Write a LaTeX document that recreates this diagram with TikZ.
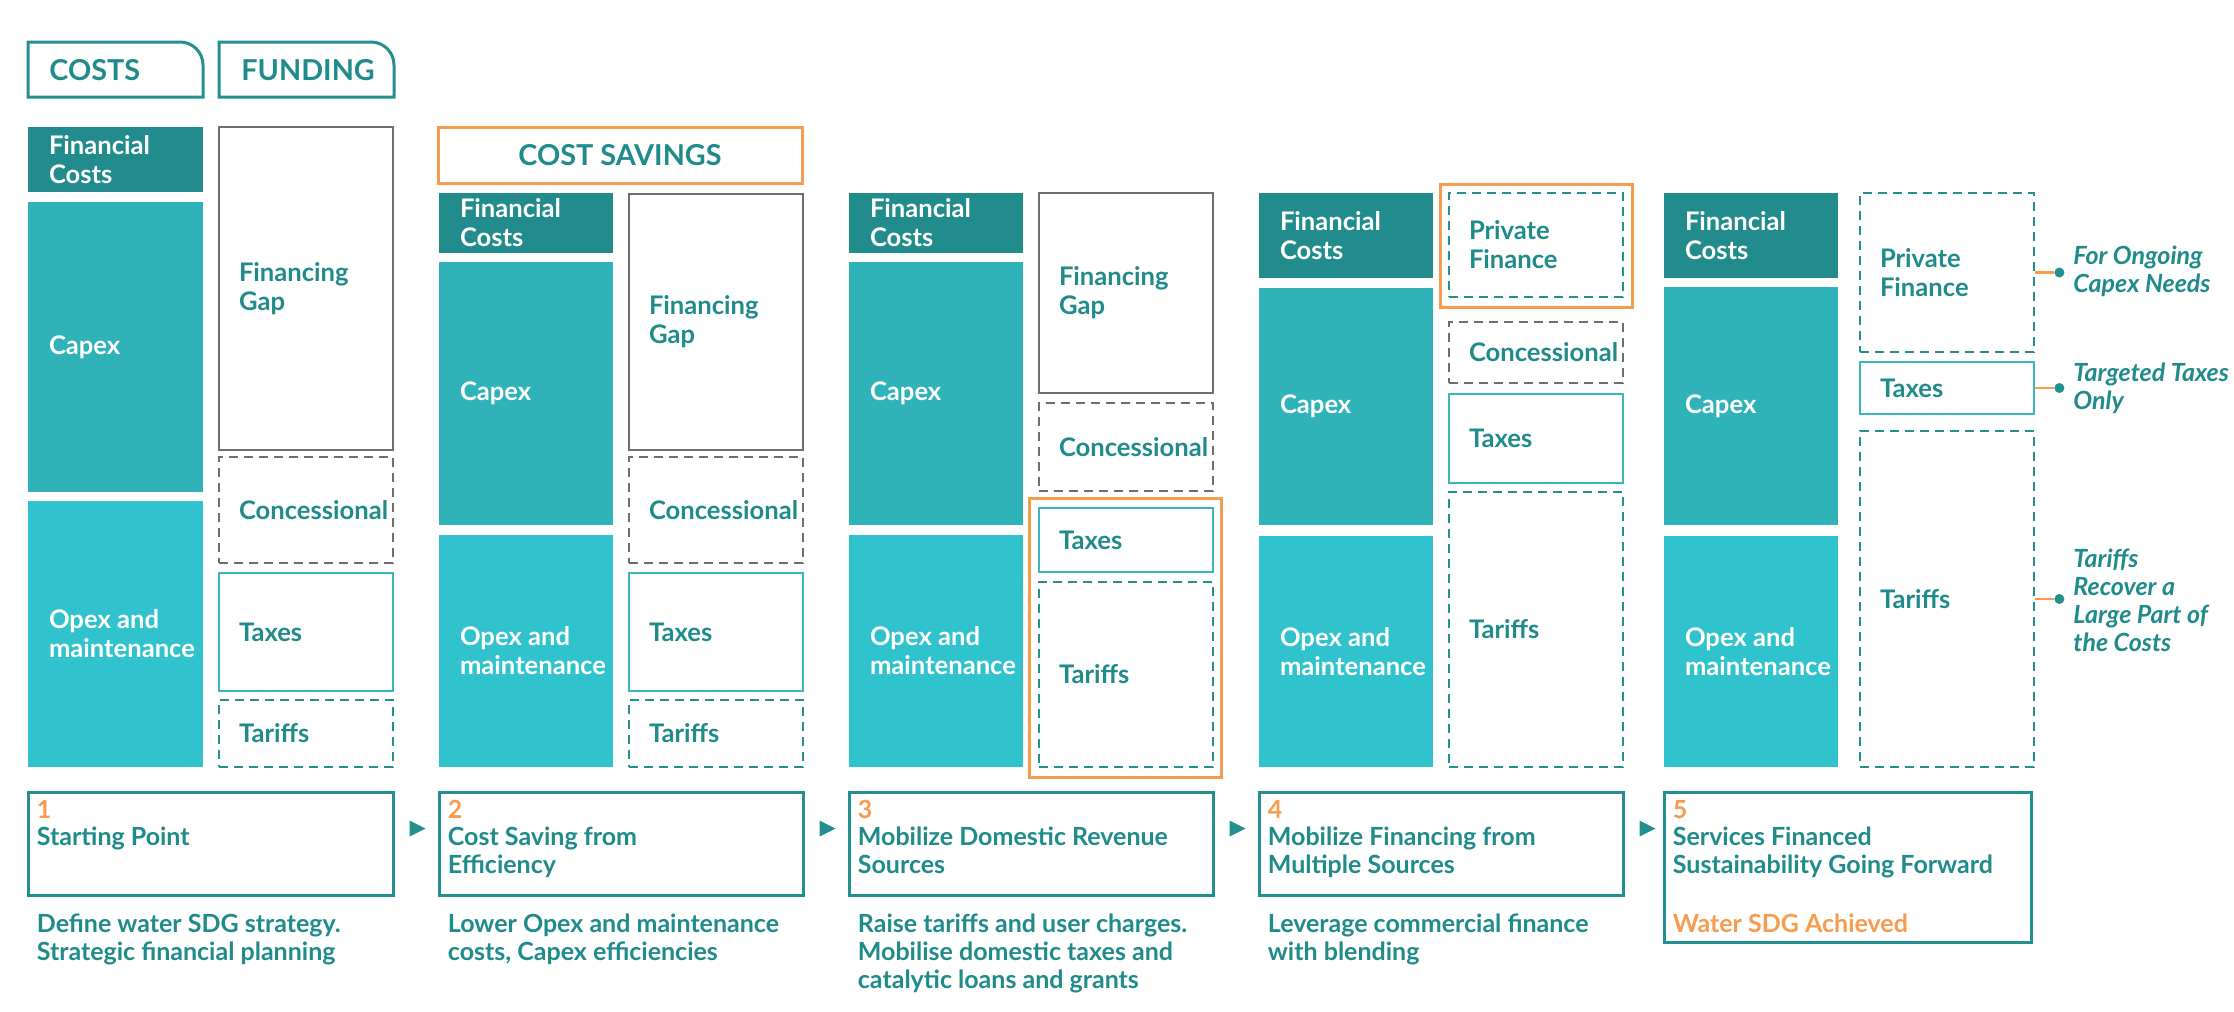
\documentclass[tikz,border=0pt]{standalone}
\usepackage{fontspec}
\setmainfont{Lato}
\usetikzlibrary{calc}
\definecolor{tealdark}{HTML}{228C8D}
\definecolor{capexc}{HTML}{2FB3B8}
\definecolor{opexc}{HTML}{31C3CD}
\definecolor{tealtxt}{HTML}{1F8B8A}
\definecolor{tealline}{HTML}{238F8F}
\definecolor{taxline}{HTML}{3AB7BD}
\definecolor{grayline}{HTML}{6E6E6E}
\definecolor{orangec}{HTML}{F79B4E}
\newcommand\mkblk[8]{%
  \node[#2, inner sep=0pt, minimum width={(#6-#4)*0.5pt}, minimum height={(#7-#5)*0.5pt}] (#1) at ({(#4+#6)/2},{(#5+#7)/2}) {};
  \node[#3, anchor=west] (#1t) at ([xshift=10.5pt]#1.west) {#8};
}
\tikzset{
  fcbox/.style={fill=tealdark, draw=none},
  capbox/.style={fill=capexc, draw=none},
  opbox/.style={fill=opexc, draw=none},
  graybox/.style={draw=grayline, line width=1.4pt},
  graydash/.style={draw=grayline, line width=1.4pt, dash pattern=on 4.5pt off 3pt},
  taxbox/.style={draw=taxline, line width=1.4pt},
  tealdash/.style={draw=tealline, line width=1.4pt, dash pattern=on 4.5pt off 3pt},
  orbox/.style={draw=orangec, line width=1.5pt},
  stepbox/.style={draw=tealline, line width=1.5pt},
  tabline/.style={draw=tealline, line width=1.5pt},
  wlbl/.style={text=white, font=\bfseries\fontsize{12.8pt}{14.5pt}\selectfont, align=left, inner sep=0pt},
  tlbl/.style={text=tealtxt, font=\bfseries\fontsize{12.8pt}{14.5pt}\selectfont, align=left, inner sep=0pt},
  headtxt/.style={text=tealtxt, font=\bfseries\fontsize{14.4pt}{16pt}\selectfont, inner sep=0pt},
  numtxt/.style={text=orangec, font=\bfseries\fontsize{12.5pt}{14pt}\selectfont, inner sep=0pt, anchor=base west},
  steptxt/.style={text=tealtxt, font=\bfseries\fontsize{12.5pt}{14pt}\selectfont, inner sep=0pt, anchor=base west},
  anntxt/.style={text=tealtxt, font=\bfseries\itshape\fontsize{12.5pt}{14pt}\selectfont, align=left, inner sep=0pt, anchor=west},
  annline/.style={draw=orangec, line width=1.2pt},
  anndot/.style={circle, fill=tealline, inner sep=0pt, minimum size=5pt},
  tri/.style={fill=tealline},
}
\begin{document}
\begin{tikzpicture}[x=0.5pt,y=-0.5pt]
\useasboundingbox (0,0) rectangle (2234,1012);
\fill[white] (0,0) rectangle (2234,1012);
% tabs
\draw[tabline] (28,97) -- (28,42) -- (180,42) arc[start angle=90,end angle=0,radius=11.5pt] -- (203,97) -- cycle;
\node[headtxt, anchor=west] (costs) at (49,70) {COSTS};
\draw[tabline] (219,97) -- (219,42) -- (371,42) arc[start angle=90,end angle=0,radius=11.5pt] -- (394,97) -- cycle;
\node[headtxt, anchor=west] (funding) at (241,70) {FUNDING};
% column 1
\mkblk{fc1}{fcbox}{wlbl}{28}{127}{203}{192}{Financial\\Costs}
\mkblk{cap1}{capbox}{wlbl}{28}{202}{203}{492}{Capex}
\mkblk{op1}{opbox}{wlbl}{28}{501}{203}{767}{Opex and\\maintenance}
\mkblk{fg1}{graybox}{tlbl}{219}{127}{393}{450}{Financing\\Gap}
\mkblk{con1}{graydash}{tlbl}{219}{457}{393}{563}{Concessional}
\mkblk{tax1}{taxbox}{tlbl}{219}{573}{393}{691}{Taxes}
\mkblk{tar1}{tealdash}{tlbl}{219}{700}{393}{767}{Tariffs}
% column 2
\node[orbox, inner sep=0pt, minimum width={(802-438)*0.5pt}, minimum height={(183-127)*0.5pt}] (cs) at ({(438+802)/2},{(127+183)/2}) {};
\node[headtxt] (cst) at (cs.center) {COST SAVINGS};
\mkblk{fc2}{fcbox}{wlbl}{439}{193}{613}{253}{Financial\\Costs}
\mkblk{cap2}{capbox}{wlbl}{439}{262}{613}{525}{Capex}
\mkblk{op2}{opbox}{wlbl}{439}{535}{613}{767}{Opex and\\maintenance}
\mkblk{fg2}{graybox}{tlbl}{629}{194}{803}{450}{Financing\\Gap}
\mkblk{con2}{graydash}{tlbl}{629}{457}{803}{563}{Concessional}
\mkblk{tax2}{taxbox}{tlbl}{629}{573}{803}{691}{Taxes}
\mkblk{tar2}{tealdash}{tlbl}{629}{700}{803}{767}{Tariffs}
% column 3
\mkblk{fc3}{fcbox}{wlbl}{849}{193}{1023}{253}{Financial\\Costs}
\mkblk{cap3}{capbox}{wlbl}{849}{262}{1023}{525}{Capex}
\mkblk{op3}{opbox}{wlbl}{849}{535}{1023}{767}{Opex and\\maintenance}
\mkblk{fg3}{graybox}{tlbl}{1039}{193}{1213}{393}{Financing\\Gap}
\mkblk{con3}{graydash}{tlbl}{1039}{403}{1213}{491}{Concessional}
\node[orbox, inner sep=0pt, minimum width={(1221-1029)*0.5pt}, minimum height={(777-498)*0.5pt}] (or3) at ({(1029+1221)/2},{(498+777)/2}) {};
\mkblk{tax3}{taxbox}{tlbl}{1039}{508}{1213}{572}{Taxes}
\mkblk{tar3}{tealdash}{tlbl}{1039}{582}{1213}{767}{Tariffs}
% column 4
\mkblk{fc4}{fcbox}{wlbl}{1259}{193}{1433}{278}{Financial\\Costs}
\mkblk{cap4}{capbox}{wlbl}{1259}{288}{1433}{525}{Capex}
\mkblk{op4}{opbox}{wlbl}{1259}{536}{1433}{767}{Opex and\\maintenance}
\node[orbox, inner sep=0pt, minimum width={(1632-1440)*0.5pt}, minimum height={(307-184)*0.5pt}] (or4) at ({(1440+1632)/2},{(184+307)/2}) {};
\mkblk{pf4}{tealdash}{tlbl}{1449}{193}{1623}{297}{Private\\Finance}
\mkblk{con4}{graydash}{tlbl}{1449}{322}{1623}{383}{Concessional}
\mkblk{tax4}{taxbox}{tlbl}{1449}{394}{1623}{483}{Taxes}
\mkblk{tar4}{tealdash}{tlbl}{1449}{492}{1623}{767}{Tariffs}
% column 5
\mkblk{fc5}{fcbox}{wlbl}{1664}{193}{1838}{278}{Financial\\Costs}
\mkblk{cap5}{capbox}{wlbl}{1664}{287}{1838}{525}{Capex}
\mkblk{op5}{opbox}{wlbl}{1664}{536}{1838}{767}{Opex and\\maintenance}
\mkblk{pf5}{tealdash}{tlbl}{1860}{193}{2034}{352}{Private\\Finance}
\mkblk{tax5}{taxbox}{tlbl}{1860}{362}{2034}{414}{Taxes}
\mkblk{tar5}{tealdash}{tlbl}{1860}{431}{2034}{767}{Tariffs}
% annotations
\node[anndot] (d1) at ([xshift=12pt]pf5.east) {};
\draw[annline] (pf5.east) -- (d1.west);
\node[anntxt] (a1) at (2073,271) {For Ongoing\\Capex Needs};
\node[anndot] (d2) at ([xshift=12pt]tax5.east) {};
\draw[annline] (tax5.east) -- (d2.west);
\node[anntxt] (a2) at (2073,388) {Targeted Taxes\\Only};
\node[anndot] (d3) at ([xshift=12pt]tar5.east) {};
\draw[annline] (tar5.east) -- (d3.west);
\node[anntxt] (a3) at (2073,600) {Tariffs\\Recover a\\Large Part of\\the Costs};
% step boxes
\node[stepbox, inner sep=0pt, minimum width={(393-28)*0.5pt}, minimum height={(895-792)*0.5pt}] (b1) at ({(28+393)/2},{(792+895)/2}) {};
\node[stepbox, inner sep=0pt, minimum width={(803-439)*0.5pt}, minimum height={(895-792)*0.5pt}] (b2) at ({(439+803)/2},{(792+895)/2}) {};
\node[stepbox, inner sep=0pt, minimum width={(1213-849)*0.5pt}, minimum height={(895-792)*0.5pt}] (b3) at ({(849+1213)/2},{(792+895)/2}) {};
\node[stepbox, inner sep=0pt, minimum width={(1623-1259)*0.5pt}, minimum height={(895-792)*0.5pt}] (b4) at ({(1259+1623)/2},{(792+895)/2}) {};
\node[stepbox, inner sep=0pt, minimum width={(2031-1664)*0.5pt}, minimum height={(942-792)*0.5pt}] (b5) at ({(1664+2031)/2},{(792+942)/2}) {};
% arrows between step boxes
\foreach \a/\b in {b1/b2,b2/b3,b3/b4,b4/b5}{
  \fill[tri] ($(\a.north east)+(15,30)$) -- ++(16,8) -- ++(-16,8) -- cycle;
}
% step texts
\node[numtxt] (b1n) at ($(b1.north west)+(10,28)$) {1};
\node[steptxt] (b1a) at ($(b1.north west)+(10,55)$) {Starting Point};
\node[steptxt] (b1d1) at ($(b1.north west)+(10,142)$) {Define water SDG strategy.};
\node[steptxt] (b1d2) at ($(b1.north west)+(10,170)$) {Strategic financial planning};
\node[numtxt] (b2n) at ($(b2.north west)+(10,28)$) {2};
\node[steptxt] (b2a) at ($(b2.north west)+(10,55)$) {Cost Saving from};
\node[steptxt] (b2b) at ($(b2.north west)+(10,83)$) {Efficiency};
\node[steptxt] (b2d1) at ($(b2.north west)+(10,142)$) {Lower Opex and maintenance};
\node[steptxt] (b2d2) at ($(b2.north west)+(10,170)$) {costs, Capex efficiencies};
\node[numtxt] (b3n) at ($(b3.north west)+(10,28)$) {3};
\node[steptxt] (b3a) at ($(b3.north west)+(10,55)$) {Mobilize Domestic Revenue};
\node[steptxt] (b3b) at ($(b3.north west)+(10,83)$) {Sources};
\node[steptxt] (b3d1) at ($(b3.north west)+(10,142)$) {Raise tariffs and user charges.};
\node[steptxt] (b3d2) at ($(b3.north west)+(10,170)$) {Mobilise domestic taxes and};
\node[steptxt] (b3d3) at ($(b3.north west)+(10,198)$) {catalytic loans and grants};
\node[numtxt] (b4n) at ($(b4.north west)+(10,28)$) {4};
\node[steptxt] (b4a) at ($(b4.north west)+(10,55)$) {Mobilize Financing from};
\node[steptxt] (b4b) at ($(b4.north west)+(10,83)$) {Multiple Sources};
\node[steptxt] (b4d1) at ($(b4.north west)+(10,142)$) {Leverage commercial finance};
\node[steptxt] (b4d2) at ($(b4.north west)+(10,170)$) {with blending};
\node[numtxt] (b5n) at ($(b5.north west)+(10,28)$) {5};
\node[steptxt] (b5a) at ($(b5.north west)+(10,55)$) {Services Financed};
\node[steptxt] (b5b) at ($(b5.north west)+(10,83)$) {Sustainability Going Forward};
\node[numtxt] (b5w) at ($(b5.north west)+(10,142)$) {Water SDG Achieved};
\end{tikzpicture}
\end{document}
